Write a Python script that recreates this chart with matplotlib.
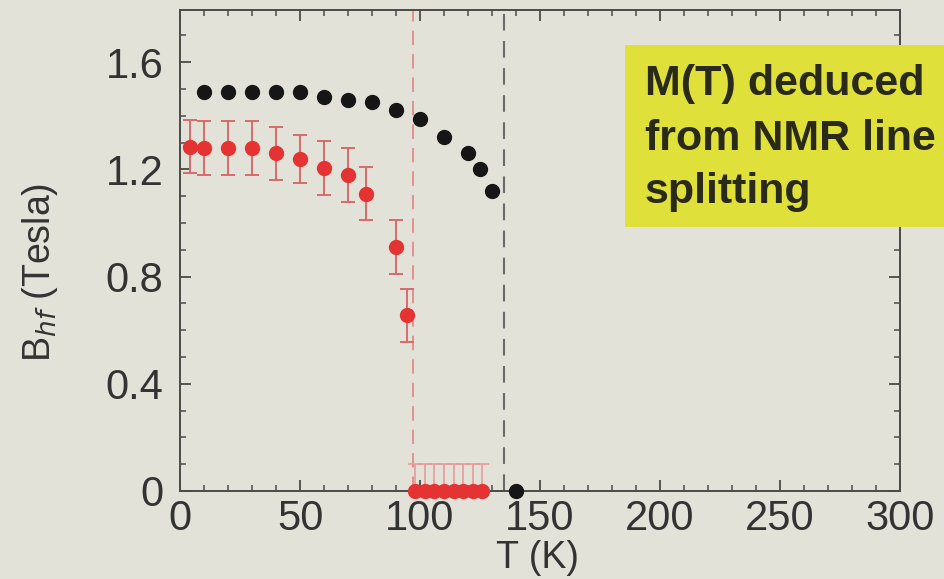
import matplotlib
matplotlib.use("Agg")
import matplotlib.pyplot as plt
from matplotlib.patches import Rectangle
from matplotlib.ticker import MultipleLocator

plt.rcParams['font.family'] = ['Liberation Sans', 'DejaVu Sans']

# Hyperfine field from NMR line splitting (black) and second site (red)
T_black = [10, 20, 30, 40, 50, 60, 70, 80, 90, 100, 110, 120, 125, 130, 140]
B_black = [1.49, 1.49, 1.49, 1.49, 1.49, 1.47, 1.46, 1.45, 1.42, 1.39, 1.32, 1.26, 1.20, 1.12, 0.0]

T_red = [4, 10, 20, 30, 40, 50, 60, 70, 77.5, 90, 94.5]
B_red = [1.285, 1.28, 1.28, 1.28, 1.26, 1.24, 1.205, 1.18, 1.11, 0.91, 0.655]
err_red = [0.10, 0.10, 0.10, 0.10, 0.10, 0.09, 0.10, 0.10, 0.10, 0.10, 0.10]

T_red0 = [98, 102, 106, 110, 114, 118, 122, 126]
B_red0 = [0, 0, 0, 0, 0, 0, 0, 0]
err_red0 = [0.10, 0.10, 0.10, 0.10, 0.10, 0.10, 0.10, 0.10]

T_red_line = 97
T_black_line = 135

x_ticks = [0, 50, 100, 150, 200, 250, 300]
y_ticks = [0.0, 0.4, 0.8, 1.2, 1.6]
y_tick_labels = ['0', '0.4', '0.8', '1.2', '1.6']

note_lines = ['M(T) deduced', 'from NMR line', 'splitting']

bg = '#e2e2d9'
fig = plt.figure(figsize=(9.45, 5.79), dpi=100, facecolor=bg)
ax = fig.add_axes([180/945, 1-491/579, 720/945, 481/579], facecolor=bg)

ax.axvline(T_red_line, color='#e58a8a', lw=1.3, ls=(0, (8, 5)), zorder=1)
ax.axvline(T_black_line, color='#6a6a6a', lw=1.5, ls=(0, (8, 5)), zorder=1)

ax.errorbar(T_red, B_red, yerr=err_red, fmt='o', color='#e53232', ms=10,
            ecolor='#d86a6a', elinewidth=1.4, capsize=5, capthick=1.4, zorder=3)
ax.errorbar(T_red0, B_red0, yerr=[[0]*len(err_red0), err_red0], fmt='o',
            color='#e53232', ms=10, ecolor='#e89a9a', elinewidth=1.2,
            capsize=5, capthick=1.2, zorder=3, clip_on=False)
ax.plot(T_black, B_black, 'o', color='#161616', ms=10, zorder=4, clip_on=False)

ax.set_xlim(0, 300)
ax.set_ylim(0, 1.795)
ax.set_xticks(x_ticks)
ax.set_yticks(y_ticks)
ax.set_yticklabels(y_tick_labels)
ax.xaxis.set_minor_locator(MultipleLocator(10))
ax.yaxis.set_minor_locator(MultipleLocator(0.1))

txt = '#333333'
ax.tick_params(which='both', direction='in', top=True, right=True,
               colors='#4a4a4a', labelcolor=txt, labelsize=30)
ax.tick_params(which='major', length=8, width=1.3)
ax.tick_params(which='minor', length=4, width=1.1)
ax.tick_params(axis='y', pad=12)
ax.tick_params(axis='x', pad=6)
for s in ax.spines.values():
    s.set_color('#4a4a4a')
    s.set_linewidth(1.4)

ax.set_xlabel('T (K)', fontsize=27, color=txt)
ax.xaxis.set_label_coords(0.496, -0.102)
ax.set_ylabel(r'B$_{hf}$ (Tesla)', fontsize=27, color=txt)
ax.yaxis.set_label_coords(-0.166, 0.455)

# Yellow annotation box
fig.patches.append(Rectangle((625/945, 1-227/579), 340/945, 182/579,
                             transform=fig.transFigure, facecolor='#e0e03a',
                             edgecolor='none', zorder=5))
for line, base in zip(note_lines, [95, 150, 203]):
    fig.text(645/945, 1-base/579, line, fontsize=31, fontweight='bold',
             color='#2a2a1a', va='baseline', ha='left', zorder=6)

fig.savefig('out.png', dpi=100, facecolor=bg)
